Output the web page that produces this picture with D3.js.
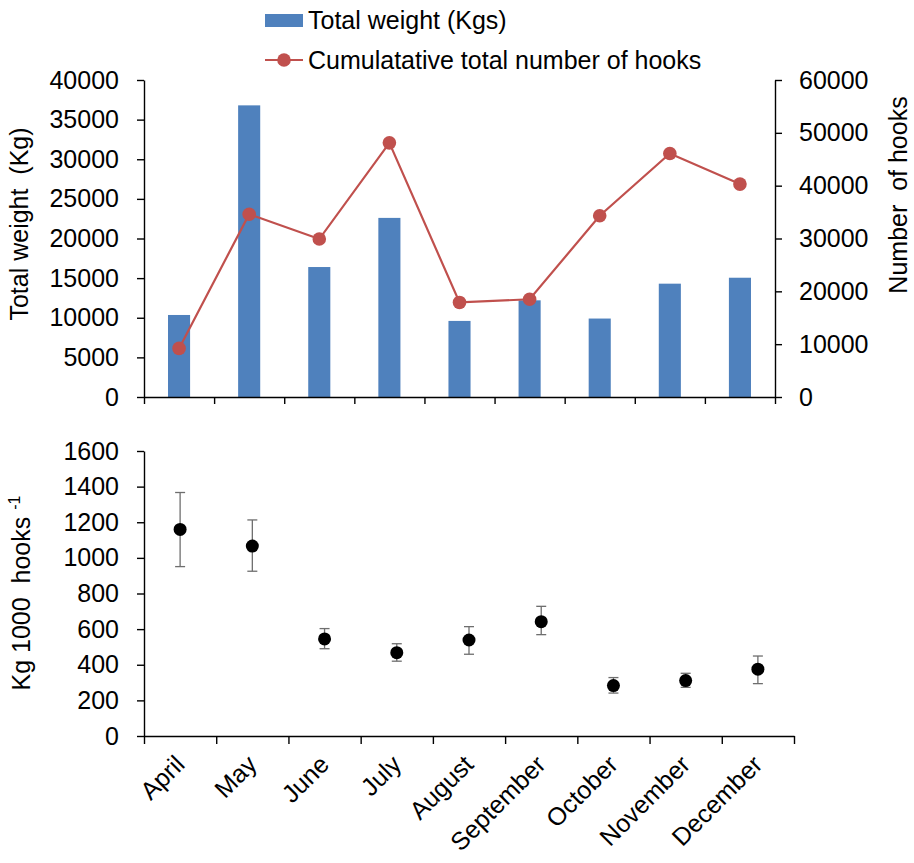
<!DOCTYPE html>
<html>
<head>
<meta charset="utf-8">
<script src="https://cdn.jsdelivr.net/npm/d3@7"></script>
<style>
  html, body { margin: 0; padding: 0; background: #fff; }
  svg { display: block; font-family: "Liberation Sans", Arial, sans-serif; }
  text { fill: #000; }
</style>
</head>
<body>
<svg id="chart" width="914" height="863"></svg>
<script>
// Monthly fishing effort and catch
const months = ["April", "May", "June", "July", "August", "September", "October", "November", "December"];
const totalWeight = [10350, 36800, 16400, 22600, 9600, 12200, 9900, 14300, 15050];   // kg
const hooks = [9200, 34600, 29900, 48100, 17900, 18500, 34300, 46100, 40300];        // cumulative hooks
const cpue = [1160, 1066, 545, 468, 539, 642, 283, 311, 375];                        // kg per 1000 hooks
const cpueHigh = [1367, 1213, 603, 518, 614, 728, 328, 352, 449];
const cpueLow = [951, 925, 490, 420, 459, 569, 241, 273, 294];

const weightTicks = [0, 5000, 10000, 15000, 20000, 25000, 30000, 35000, 40000];
const hookTicks = [0, 10000, 20000, 30000, 40000, 50000, 60000];
const cpueTicks = [0, 200, 400, 600, 800, 1000, 1200, 1400, 1600];

const BLUE = "#4f81bd", RED = "#c0504d";
const svg = d3.select("#chart");
const FS = 25;

// ---------- upper panel: weight bars + hooks line ----------
const xTop = d3.scaleBand().domain(months).range([144, 775]);
const xTopEdge = d3.scaleLinear().domain([0, months.length]).range([144, 775]);
const yW = d3.scaleLinear().domain([0, 40000]).range([397, 80]);
const yH = d3.scaleLinear().domain([0, 60000]).range([397, 80]);

const upper = svg.append("g");
const barW = xTop.bandwidth() * 0.315;
upper.selectAll("rect.bar").data(months).join("rect")
  .attr("class", "bar")
  .attr("x", (d) => xTop(d) + xTop.bandwidth() / 2 - barW / 2)
  .attr("width", barW)
  .attr("y", (d, i) => yW(totalWeight[i]))
  .attr("height", (d, i) => yW(0) - yW(totalWeight[i]))
  .attr("fill", BLUE);

const line = d3.line()
  .x((d, i) => xTop(months[i]) + xTop.bandwidth() / 2)
  .y((d) => yH(d));
upper.append("path").datum(hooks)
  .attr("d", line).attr("fill", "none")
  .attr("stroke", RED).attr("stroke-width", 2.2);
upper.selectAll("circle.hk").data(hooks).join("circle")
  .attr("class", "hk")
  .attr("cx", (d, i) => xTop(months[i]) + xTop.bandwidth() / 2)
  .attr("cy", (d) => yH(d))
  .attr("r", 6.8).attr("fill", RED);

function styleAxis(g) {
  g.selectAll("path.domain").attr("stroke", "#000").attr("stroke-width", 1.4);
  g.selectAll(".tick line").attr("stroke", "#000").attr("stroke-width", 1.4);
  g.selectAll(".tick text").attr("font-size", FS).attr("fill", "#000")
    .attr("font-family", "Liberation Sans, Arial, sans-serif");
}

upper.append("g").attr("transform", "translate(144,0)")
  .call(d3.axisLeft(yW).tickValues(weightTicks).tickSize(7).tickSizeOuter(0).tickPadding(18).tickFormat(d3.format("d")))
  .call(styleAxis);
upper.append("g").attr("transform", "translate(775,0)")
  .call(d3.axisRight(yH).tickValues(hookTicks).tickSize(7).tickSizeOuter(0).tickPadding(17).tickFormat(d3.format("d")))
  .call(styleAxis);
upper.append("g").attr("transform", "translate(0,397)")
  .call(d3.axisBottom(xTopEdge).tickValues(d3.range(months.length + 1)).tickSize(7).tickSizeOuter(0).tickFormat(""))
  .call(styleAxis);

upper.append("text")
  .attr("transform", "translate(28,224) rotate(-90)")
  .attr("text-anchor", "middle").attr("font-size", FS)
  .style("white-space", "pre")
  .text("Total weight  (Kg)");
upper.append("text")
  .attr("transform", "translate(907,195) rotate(-90)")
  .attr("text-anchor", "middle").attr("font-size", FS)
  .style("white-space", "pre")
  .text("Number  of hooks");

// legend
const legend = svg.append("g");
legend.append("rect").attr("x", 265).attr("y", 14).attr("width", 38).attr("height", 13).attr("fill", BLUE);
legend.append("text").attr("x", 308).attr("y", 20).attr("dy", "0.35em").attr("font-size", FS).text("Total weight (Kgs)");
legend.append("line").attr("x1", 265).attr("x2", 303).attr("y1", 60).attr("y2", 60)
  .attr("stroke", RED).attr("stroke-width", 2.2);
legend.append("circle").attr("cx", 284).attr("cy", 60).attr("r", 6.8).attr("fill", RED);
legend.append("text").attr("x", 308).attr("y", 60).attr("dy", "0.35em").attr("font-size", FS).text("Cumulatative total number of hooks");

// ---------- lower panel: CPUE with error bars ----------
const xBot = d3.scaleBand().domain(months).range([144, 794]);
const xBotEdge = d3.scaleLinear().domain([0, months.length]).range([144, 794]);
const yC = d3.scaleLinear().domain([0, 1600]).range([736, 451]);
const lower = svg.append("g");

const cx = (i) => xBot(months[i]) + xBot.bandwidth() / 2;
const err = lower.selectAll("g.err").data(cpue).join("g").attr("class", "err")
  .attr("stroke", "#6e6e6e").attr("stroke-width", 1.3);
err.append("line").attr("x1", (d, i) => cx(i)).attr("x2", (d, i) => cx(i))
  .attr("y1", (d, i) => yC(cpueHigh[i])).attr("y2", (d, i) => yC(cpueLow[i]));
err.append("line").attr("x1", (d, i) => cx(i) - 5).attr("x2", (d, i) => cx(i) + 5)
  .attr("y1", (d, i) => yC(cpueHigh[i])).attr("y2", (d, i) => yC(cpueHigh[i]));
err.append("line").attr("x1", (d, i) => cx(i) - 5).attr("x2", (d, i) => cx(i) + 5)
  .attr("y1", (d, i) => yC(cpueLow[i])).attr("y2", (d, i) => yC(cpueLow[i]));
lower.selectAll("circle.pt").data(cpue).join("circle")
  .attr("class", "pt")
  .attr("cx", (d, i) => cx(i)).attr("cy", (d) => yC(d))
  .attr("r", 6.5).attr("fill", "#000");

lower.append("g").attr("transform", "translate(144,0)")
  .call(d3.axisLeft(yC).tickValues(cpueTicks).tickSize(7).tickSizeOuter(0).tickPadding(18).tickFormat(d3.format("d")))
  .call(styleAxis);
lower.append("g").attr("transform", "translate(0,736)")
  .call(d3.axisBottom(xBotEdge).tickValues(d3.range(months.length + 1)).tickSize(8).tickSizeOuter(0).tickFormat(""))
  .call(styleAxis);

lower.selectAll("text.month").data(months).join("text")
  .attr("class", "month")
  .attr("transform", (d, i) => `translate(${cx(i) + 6},${766}) rotate(-45)`)
  .attr("text-anchor", "end").attr("font-size", FS)
  .text((d) => d);

const yt = lower.append("text")
  .attr("transform", "translate(30,593) rotate(-90)")
  .attr("text-anchor", "middle").attr("font-size", FS)
  .style("white-space", "pre");
yt.append("tspan").text("Kg 1000  hooks ");
yt.append("tspan").attr("font-size", 16).attr("dy", -10).text("-1");
</script>
</body>
</html>
